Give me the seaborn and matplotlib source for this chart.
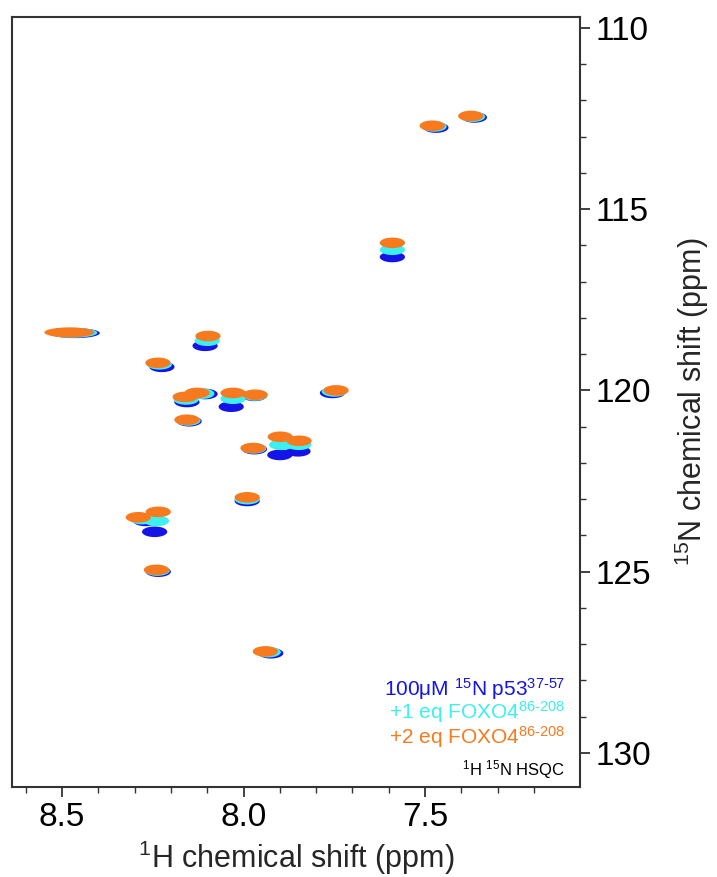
import numpy as np
import pandas as pd
import matplotlib
matplotlib.use("Agg")
import matplotlib.pyplot as plt
from matplotlib.path import Path
import seaborn as sns

# ---- data (ppm) ----
blue_H = [7.470, 7.364, 7.590, 8.106, 8.225, 8.106, 8.156, 8.150, 8.034, 7.970, 7.900, 7.850, 7.970, 7.755, 7.990, 8.270, 8.245, 8.235, 7.925]
blue_N = [112.75, 112.47, 116.32, 118.77, 119.35, 120.10, 120.32, 120.85, 120.45, 120.15, 121.78, 121.68, 121.62, 120.07, 123.05, 123.60, 123.90, 125.00, 127.25]
cyan_H = [7.475, 7.369, 7.590, 8.100, 8.232, 8.115, 8.158, 8.153, 8.029, 7.969, 7.895, 7.848, 7.972, 7.750, 7.990, 8.280, 8.240, 8.238, 7.932]
cyan_N = [112.72, 112.45, 116.12, 118.63, 119.28, 120.09, 120.25, 120.83, 120.23, 120.14, 121.50, 121.50, 121.60, 120.03, 123.00, 123.55, 123.60, 124.97, 127.22]
orng_H = [7.480, 7.374, 7.590, 8.098, 8.236, 8.128, 8.161, 8.156, 8.029, 7.968, 7.899, 7.847, 7.974, 7.745, 7.990, 8.290, 8.235, 8.240, 7.940]
orng_N = [112.70, 112.43, 115.93, 118.50, 119.24, 120.07, 120.18, 120.81, 120.07, 120.12, 121.28, 121.39, 121.59, 120.00, 122.95, 123.50, 123.35, 124.95, 127.20]
# broad peak
broad_H = {"blue": 8.465, "cyan": 8.472, "orange": 8.480}
broad_N = {"blue": 118.42, "cyan": 118.41, "orange": 118.40}

samples = ["100μM p53", "+1 eq FOXO4", "+2 eq FOXO4"]
colors = ["#1414e6", "#3cf0f0", "#f87a1e"]
x_ticks = [8.5, 8.0, 7.5]
y_ticks = [110, 115, 120, 125, 130]

rows = []
for s, hs, ns in zip(samples, [blue_H, cyan_H, orng_H], [blue_N, cyan_N, orng_N]):
    for h, n in zip(hs, ns):
        rows.append({"H": h, "N": n, "sample": s})
df = pd.DataFrame(rows)
broad = pd.DataFrame({"H": list(broad_H.values()), "N": list(broad_N.values()), "sample": samples})

sns.set_style("ticks")
plt.rcParams["font.family"] = ["Liberation Sans", "DejaVu Sans"]
plt.rcParams["mathtext.fontset"] = "custom"
plt.rcParams["mathtext.rm"] = "Liberation Sans"
plt.rcParams["mathtext.it"] = "Liberation Sans"
plt.rcParams["mathtext.bf"] = "Liberation Sans"

fig = plt.figure(figsize=(7.17, 8.77), dpi=100)
ax = fig.add_axes([12 / 717, 1 - 787 / 877, 568 / 717, 770 / 877])

t = np.linspace(0, 2 * np.pi, 60)
def ell(ratio):
    v = np.column_stack([np.cos(t), ratio * np.sin(t)])
    return Path(v, closed=True)

narrow = ell(0.42)
wide = ell(0.20)
pal = dict(zip(samples, colors))

sns.scatterplot(data=df, x="H", y="N", hue="sample", palette=pal, hue_order=samples,
                marker=narrow, s=330, linewidth=0, legend=False, ax=ax, zorder=3)
sns.scatterplot(data=broad, x="H", y="N", hue="sample", palette=pal, hue_order=samples,
                marker=wide, s=1300, linewidth=0, legend=False, ax=ax, zorder=2)

ax.set_xlim(8.638, 7.073)
ax.set_ylim(130.94, 109.70)
ax.set_xticks(x_ticks)
ax.set_xticklabels([f"{v:.1f}" for v in x_ticks])
ax.set_xticks(np.arange(7.2, 8.65, 0.1), minor=True)
ax.set_yticks(y_ticks)
ax.set_yticks(np.arange(110, 131, 1), minor=True)
ax.yaxis.tick_right()
ax.yaxis.set_label_position("right")
ax.tick_params(which="major", length=7, width=1.3, labelsize=24, pad=4, colors="#333333", labelcolor="black")
ax.tick_params(which="minor", length=4, width=1.0, colors="#333333")
for sp in ax.spines.values():
    sp.set_linewidth(1.5)
    sp.set_color("#333333")

ax.set_xlabel(r"$^{\mathregular{1}}$H chemical shift (ppm)", fontsize=22, labelpad=4)
ax.set_ylabel(r"$^{\mathregular{15}}$N chemical shift (ppm)", fontsize=22, rotation=90, labelpad=16)

tx = 0.974
ax.text(tx, 0.119, r"100μM $^{\mathregular{15}}$N p53$^{\mathregular{37\text{-}57}}$", color=colors[0],
        ha="right", va="baseline", fontsize=15, transform=ax.transAxes)
ax.text(tx, 0.0886, r"+1 eq FOXO4$^{\mathregular{86\text{-}208}}$", color=colors[1],
        ha="right", va="baseline", fontsize=15, transform=ax.transAxes)
ax.text(tx, 0.056, r"+2 eq FOXO4$^{\mathregular{86\text{-}208}}$", color=colors[2],
        ha="right", va="baseline", fontsize=15, transform=ax.transAxes)
ax.text(tx, 0.0156, r"$^{\mathregular{1}}$H $^{\mathregular{15}}$N HSQC", color="black",
        ha="right", va="baseline", fontsize=12, transform=ax.transAxes)

fig.savefig("out.png", dpi=100)
